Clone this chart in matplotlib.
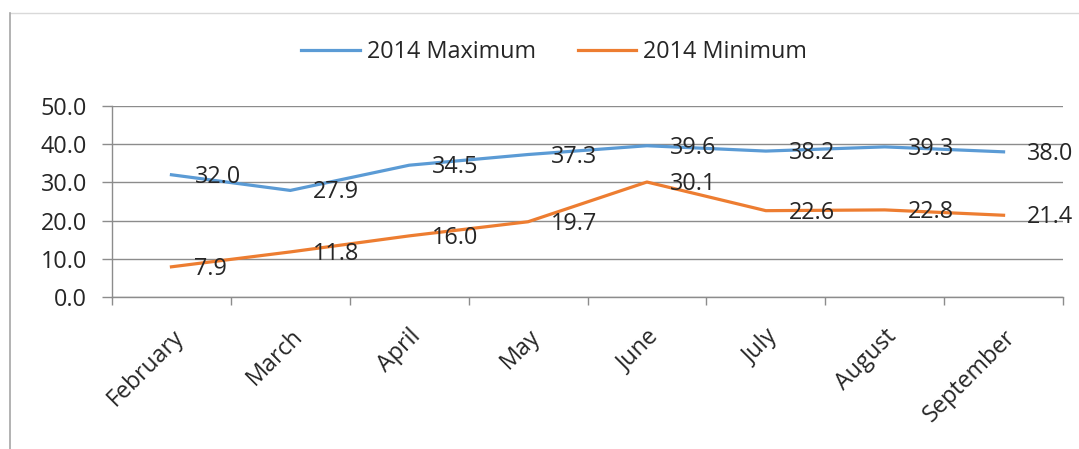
import matplotlib.pyplot as plt
from matplotlib.lines import Line2D
import numpy as np

months = ['February', 'March', 'April', 'May', 'June', 'July', 'August', 'September']
t_max = [32.0, 27.9, 34.5, 37.3, 39.6, 38.2, 39.3, 38.0]
t_min = [7.9, 11.8, 16.0, 19.7, 30.1, 22.6, 22.8, 21.4]

plt.rcParams['font.family'] = ['Open Sans', 'DejaVu Sans']
fs = 16.8
txt = '#262626'

fig = plt.figure(figsize=(10.79, 4.49), dpi=100)
ax = fig.add_axes([112/1079, 1-297/449, (1063-112)/1079, (297-106)/449])

x = np.arange(len(months))
ax.plot(x, t_max, color='#5B9BD5', lw=2.3, label='2014 Maximum', solid_joinstyle='round')
ax.plot(x, t_min, color='#ED7D31', lw=2.3, label='2014 Minimum', solid_joinstyle='round')

for xi, v in zip(x, t_max):
    ax.annotate(f'{v:.1f}', (xi, v), xytext=(23, -2), textcoords='offset pixels',
                ha='left', va='center', fontsize=fs, color=txt)
for xi, v in zip(x, t_min):
    ax.annotate(f'{v:.1f}', (xi, v), xytext=(23, -2), textcoords='offset pixels',
                ha='left', va='center', fontsize=fs, color=txt)

ax.set_xlim(-0.5, len(months) - 0.5)
ax.set_ylim(0, 50)
ax.set_yticks(np.arange(0, 51, 10))
ax.set_yticklabels([f'{v:.1f}' for v in np.arange(0, 51, 10)], fontsize=fs, color=txt)
ax.grid(True, axis='y', color='#8c8c8c', lw=1)
ax.set_axisbelow(True)

# category ticks at boundaries, labels at centers
ax.set_xticks(np.arange(-0.5, len(months), 1))
ax.set_xticklabels([])
ax.set_xticks(x, minor=True)
ax.set_xticklabels(months, minor=True, rotation=45, ha='right', rotation_mode='anchor',
                   fontsize=fs, color=txt)
ax.tick_params(axis='x', which='minor', length=0, pad=20)
ax.tick_params(axis='x', which='major', length=6, color='#8c8c8c', width=1)
ax.tick_params(axis='y', length=7, color='#8c8c8c', width=1, pad=11)

for s in ['top', 'right']:
    ax.spines[s].set_visible(False)
for s in ['left', 'bottom']:
    ax.spines[s].set_color('#8c8c8c')
    ax.spines[s].set_linewidth(1)

fig.legend(loc='center', bbox_to_anchor=(554/1079, 1-52/449), ncol=2, frameon=False,
           fontsize=fs, handlelength=2.5, columnspacing=1.8, handletextpad=0.3,
           labelcolor=txt)

# outer chart frame
fig.add_artist(Line2D([10/1079, 1], [1-13/449, 1-13/449], color='#d9d9d9', lw=1))
fig.add_artist(Line2D([10/1079, 10/1079], [0, 1-13/449], color='#a6a6a6', lw=1.2))

fig.savefig('out.png', dpi=100)
